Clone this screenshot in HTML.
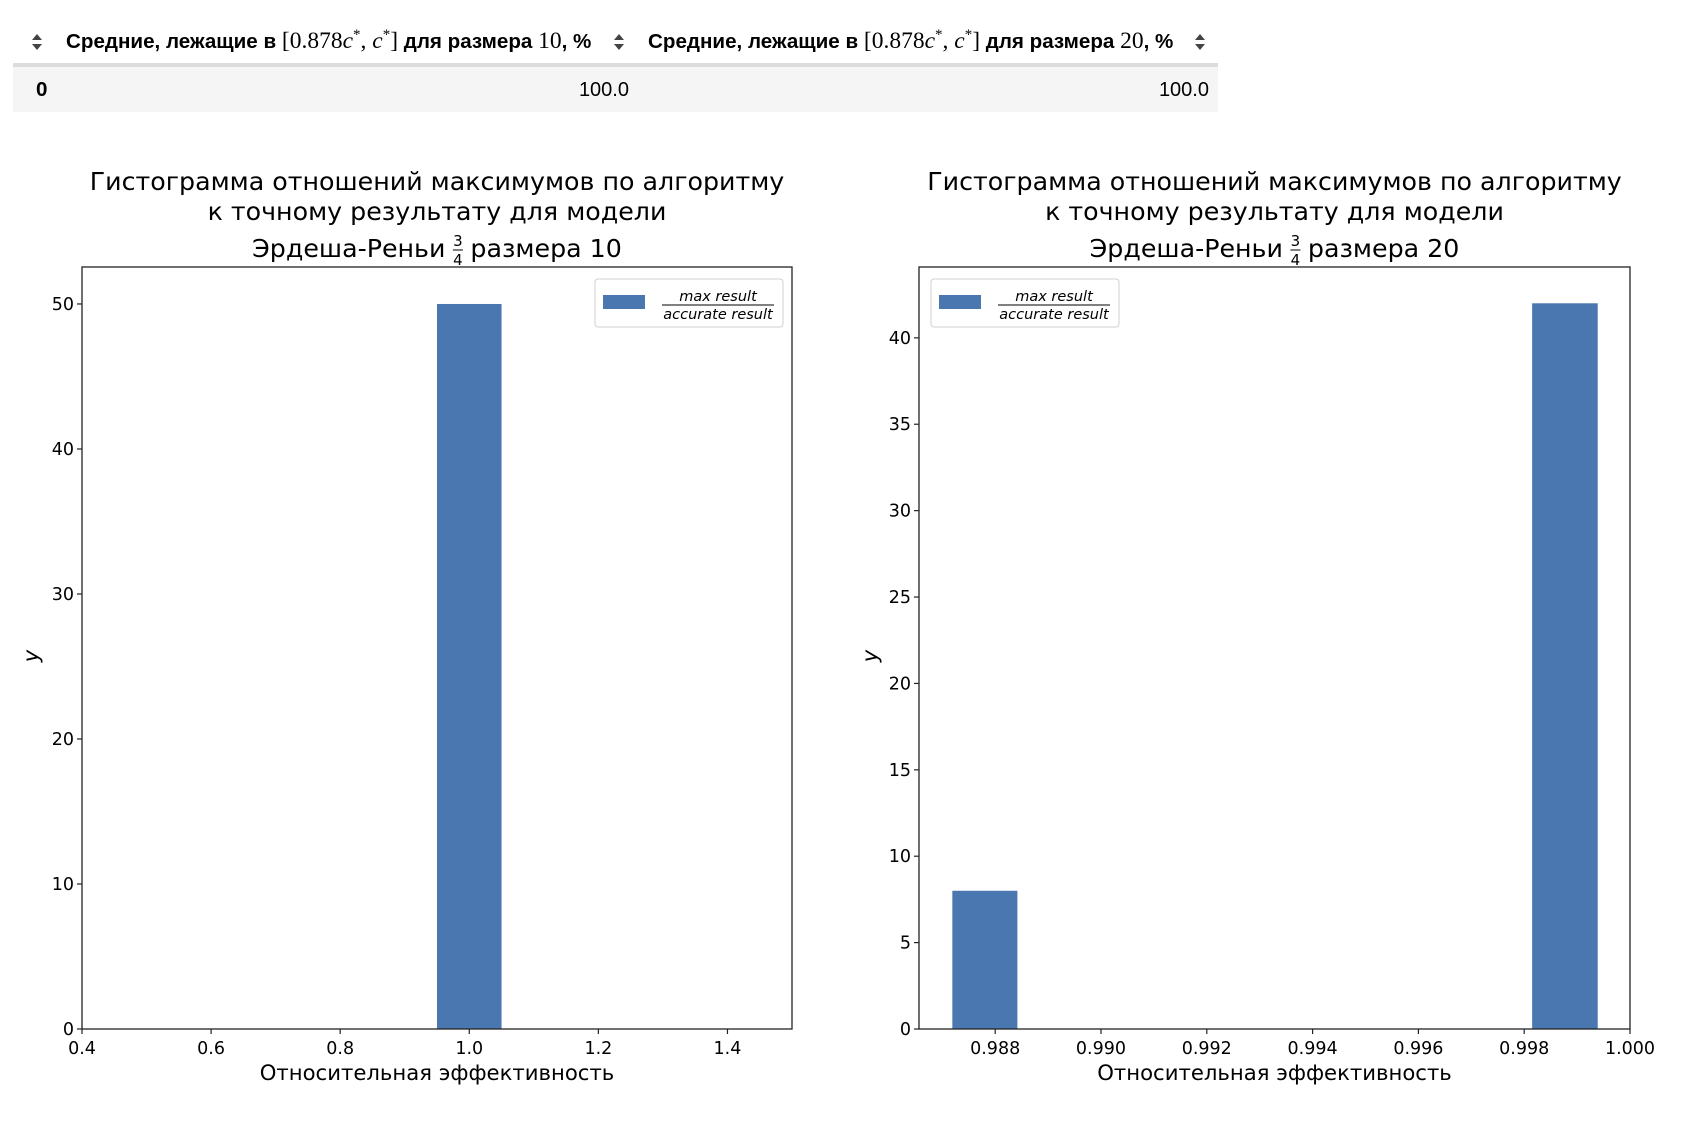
<!DOCTYPE html>
<html><head><meta charset="utf-8"><style>
html,body{margin:0;padding:0;background:#fff;width:1694px;height:1130px;overflow:hidden}
svg{position:absolute;left:0;top:0}
.hd{font-family:"Liberation Sans",sans-serif;font-weight:bold;font-size:20.6px;fill:#000}
.mth{font-family:"Liberation Serif",serif;font-weight:normal;font-size:23.5px}
.t{font-family:"DejaVu Sans","Liberation Sans",sans-serif;fill:#000}
</style></head><body>
<svg id="s" width="1694" height="1130" xmlns="http://www.w3.org/2000/svg">
<g>
<rect x="13" y="63" width="1205" height="4" fill="#dcdcdc"/>
<rect x="13" y="67" width="1205" height="45" fill="#f5f5f5"/>
<g><path d="M32,40 l5,-6 l5,6z M32,44 l5,6 l5,-6z" fill="#444"/></g>
<text id="h1" class="hd" x="66" y="48">Средние, лежащие в <tspan class="mth">[0.878<tspan font-style="italic">c</tspan><tspan font-size="15" dy="-9">*</tspan><tspan dy="9">, </tspan><tspan font-style="italic">c</tspan><tspan font-size="15" dy="-9">*</tspan><tspan dy="9">]</tspan></tspan> для размера <tspan class="mth">10</tspan>, %</text>
<g><path d="M614,40 l5,-6 l5,6z M614,44 l5,6 l5,-6z" fill="#444"/></g>
<text id="h2" class="hd" x="648" y="48">Средние, лежащие в <tspan class="mth">[0.878<tspan font-style="italic">c</tspan><tspan font-size="15" dy="-9">*</tspan><tspan dy="9">, </tspan><tspan font-style="italic">c</tspan><tspan font-size="15" dy="-9">*</tspan><tspan dy="9">]</tspan></tspan> для размера <tspan class="mth">20</tspan>, %</text>
<g><path d="M1195,40 l5,-6 l5,6z M1195,44 l5,6 l5,-6z" fill="#444"/></g>
<text class="hd" x="36" y="96">0</text>
<text x="629" y="96" text-anchor="end" font-family="Liberation Sans" font-size="20">100.0</text>
<text x="1209" y="96" text-anchor="end" font-family="Liberation Sans" font-size="20">100.0</text>
</g>
</svg>
<script>
// Chart 1 data
const xTicks1 = [0.4, 0.6, 0.8, 1.0, 1.2, 1.4];
const xTickLabels1 = ["0.4","0.6","0.8","1.0","1.2","1.4"];
const yTicks1 = [0, 10, 20, 30, 40, 50];
const binEdges1 = [0.95, 1.05];
const counts1 = [50];
// Chart 2 data
const xTicks2 = [0.988, 0.990, 0.992, 0.994, 0.996, 0.998, 1.000];
const xTickLabels2 = ["0.988","0.990","0.992","0.994","0.996","0.998","1.000"];
const yTicks2 = [0, 5, 10, 15, 20, 25, 30, 35, 40];
const binStarts2 = [0.98719, 0.99815];
const binWidths2 = [0.00123, 0.00124];
const counts2 = [8, 42];

const NS = "http://www.w3.org/2000/svg";
const svg = document.getElementById('s');
function mk(tag, attrs, parent) {
  const e = document.createElementNS(NS, tag);
  for (const k in attrs) e.setAttribute(k, attrs[k]);
  (parent || svg).appendChild(e);
  return e;
}
function txt(s, attrs, parent) { const e = mk('text', attrs, parent); e.textContent = s; return e; }

function chart(cfg) {
  const g = mk('g', {});
  
  
  const {L, R, T, B, xmin, xmax, ymax} = cfg;
  const sx = v => L + (v - xmin) / (xmax - xmin) * (R - L);
  const sy = v => B - v / ymax * (B - T);
  const cx = (L + R) / 2;
  const TF = 25.3;
  const t1 = txt(cfg.title[0], {class: 't', x: cx, y: 190, 'font-size': TF, 'text-anchor': 'middle'}, g);
  
  
  const t2 = txt(cfg.title[1], {class: 't', x: cx, y: 220, 'font-size': TF, 'text-anchor': 'middle'}, g);
  
  
  // line 3 with stacked fraction
  const a = txt('Эрдеша-Реньи', {class: 't', x: 0, y: 257, 'font-size': TF}, g);
  
  
  const b = txt(cfg.title[2], {class: 't', x: 0, y: 257, 'font-size': TF}, g);
  
  
  const w1 = a.getComputedTextLength(), w2 = b.getComputedTextLength();
  const gap = 7, fw = 11;
  const start = cx - (w1 + gap + fw + gap + w2) / 2;
  a.setAttribute('x', start);
  const fx = start + w1 + gap + fw / 2;
  b.setAttribute('x', start + w1 + gap + fw + gap);
  txt('3', {class: 't', x: fx, y: 246, 'font-size': 15, 'text-anchor': 'middle'}, g);
  mk('line', {x1: fx - 5, x2: fx + 5, y1: 250, y2: 250, stroke: '#000', 'stroke-width': 1}, g);
  txt('4', {class: 't', x: fx, y: 265, 'font-size': 15, 'text-anchor': 'middle'}, g);
  // bars
  for (let i = 0; i < cfg.counts.length; i++) {
    const x0 = sx(cfg.bx0[i]), x1 = sx(cfg.bx1[i]);
    const r = mk('rect', {x: x0, y: sy(cfg.counts[i]), width: x1 - x0, height: B - sy(cfg.counts[i]), fill: '#4a77b0'}, g);
    
    
  }
  const f = mk('rect', {x: L, y: T, width: R - L, height: B - T, fill: 'none', stroke: '#222', 'stroke-width': 1.3}, g);
  
  
  cfg.xt.forEach((v, i) => {
    const x = sx(v);
    mk('line', {x1: x, x2: x, y1: B, y2: B + 5, stroke: '#222', 'stroke-width': 1.2}, g);
    const l = txt(cfg.xl[i], {class: 't', x: x, y: B + 25, 'font-size': 17.5, 'text-anchor': 'middle'}, g);
    
    
  });
  cfg.yt.forEach(v => {
    const y = sy(v);
    mk('line', {x1: L - 5, x2: L, y1: y, y2: y, stroke: '#222', 'stroke-width': 1.2}, g);
    const l = txt(String(v), {class: 't', x: L - 8, y: y + 6, 'font-size': 17.5, 'text-anchor': 'end'}, g);
    
    
  });
  const xl = txt('Относительная эффективность', {class: 't', x: cx, y: 1080, 'font-size': 21.2, 'text-anchor': 'middle'}, g);
  
  
  const yl = txt('y', {class: 't', x: 0, y: 0, 'font-size': 21, 'font-style': 'italic', 'text-anchor': 'middle', transform: `translate(${cfg.ylx},656) rotate(-90)`}, g);
  
  
  const lg = mk('g', {}, g);
  
  
  const lx = cfg.legX;
  mk('rect', {x: lx, y: 279, width: 188, height: 48, rx: 3, fill: '#fff', stroke: '#d0d0d0', 'stroke-width': 1}, lg);
  const sw = mk('rect', {x: lx + 8, y: 295, width: 42, height: 14, fill: '#4a77b0'}, lg);
  
  
  const tcx = lx + 123;
  txt('max result', {class: 't', x: tcx, y: 301, 'font-size': 14.5, 'font-style': 'italic', 'text-anchor': 'middle'}, lg);
  mk('line', {x1: tcx - 56, x2: tcx + 56, y1: 305, y2: 305, stroke: '#000', 'stroke-width': 1}, lg);
  txt('accurate result', {class: 't', x: tcx, y: 319, 'font-size': 14.5, 'font-style': 'italic', 'text-anchor': 'middle'}, lg);
}

chart({name: 'histogram-size-10', L: 82, R: 792, T: 267, B: 1029, xmin: 0.4, xmax: 1.5, ymax: 52.55,
  xt: xTicks1, xl: xTickLabels1, yt: yTicks1, counts: counts1,
  bx0: [binEdges1[0]], bx1: [binEdges1[1]], legX: 595, ylx: 38,
  title: ['Гистограмма отношений максимумов по алгоритму', 'к точному результату для модели', 'размера 10']});
chart({name: 'histogram-size-20', L: 919, R: 1630, T: 267, B: 1029, xmin: 0.98656, xmax: 1.000, ymax: 44.1,
  xt: xTicks2, xl: xTickLabels2, yt: yTicks2, counts: counts2,
  bx0: binStarts2, bx1: binStarts2.map((s, i) => s + binWidths2[i]), legX: 931, ylx: 877,
  title: ['Гистограмма отношений максимумов по алгоритму', 'к точному результату для модели', 'размера 20']});
</script>
</body></html>
